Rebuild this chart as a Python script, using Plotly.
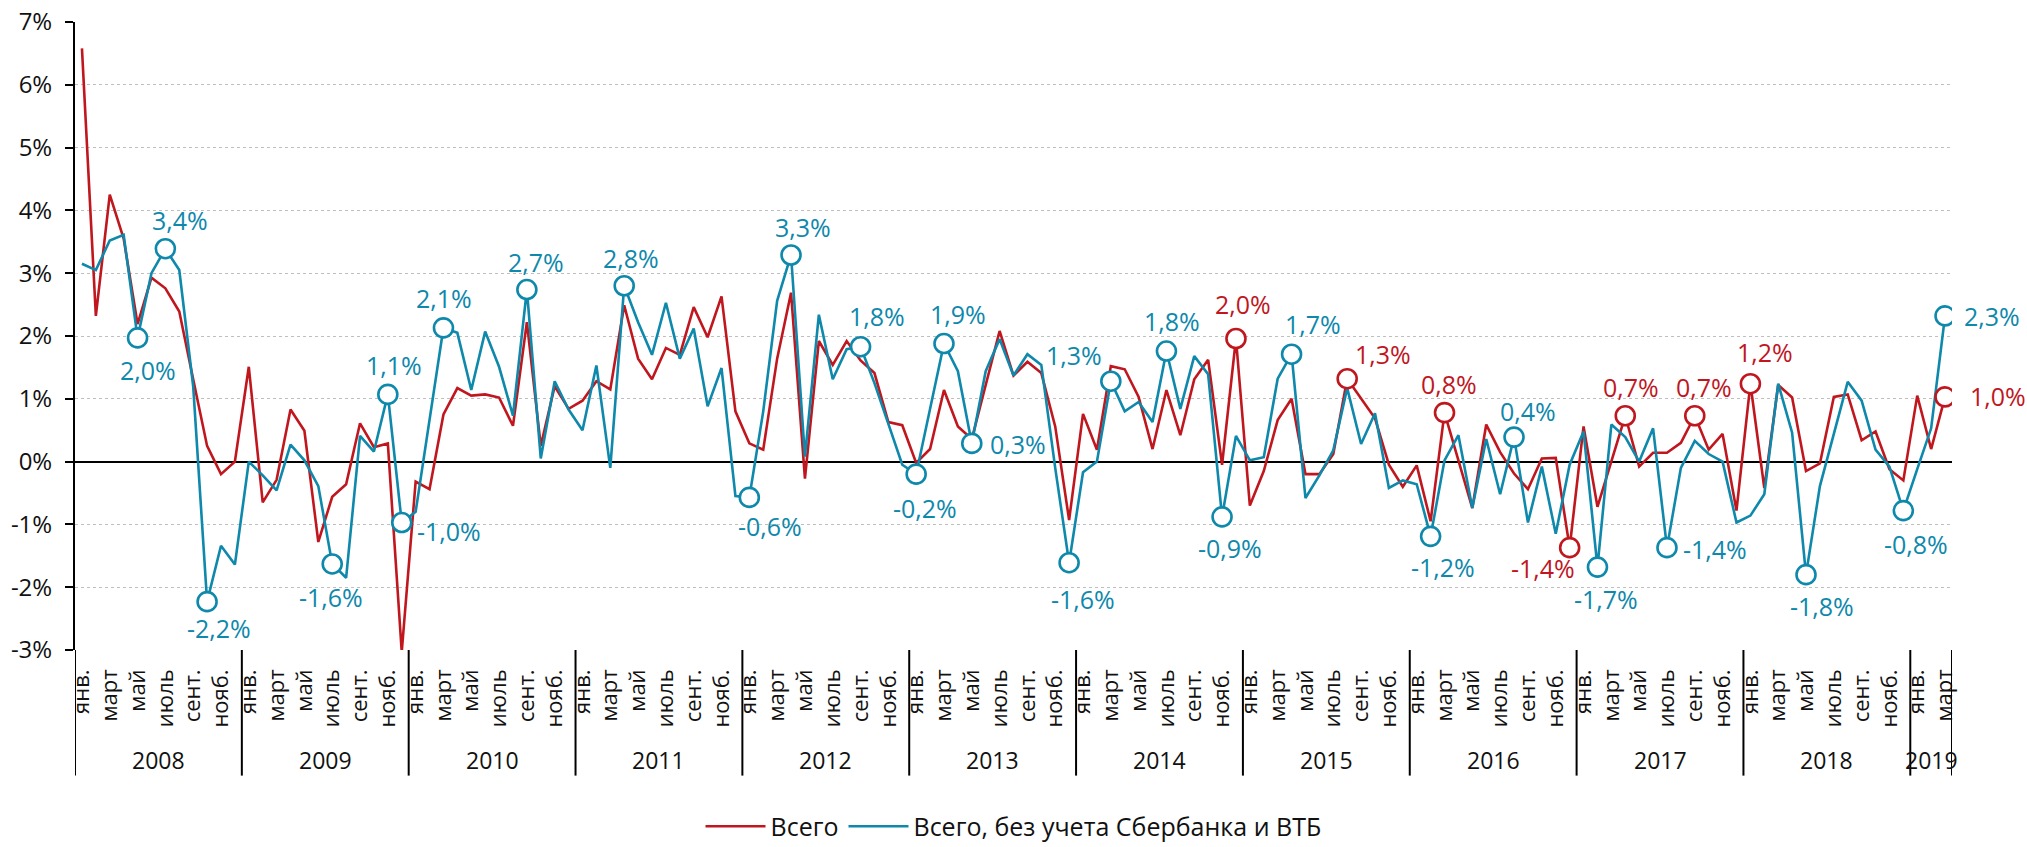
import plotly.graph_objects as go

# ---------------- data ----------------
years = [2008, 2009, 2010, 2011, 2012, 2013, 2014, 2015, 2016, 2017, 2018, 2019]
month_tick_labels = ["янв.", "март", "май", "июль", "сент.", "нояб."]
series_names = ["Всего", "Всего, без учета Сбербанка и ВТБ"]

total = [
    6.58, 2.32, 4.25, 3.55, 2.19, 2.93, 2.76, 2.39, 1.31, 0.25, -0.20, 0.00,
    1.51, -0.65, -0.29, 0.83, 0.49, -1.28, -0.56, -0.36, 0.61, 0.23, 0.29, -3.03,
    -0.32, -0.44, 0.75, 1.17, 1.05, 1.07, 1.02, 0.57, 2.22, 0.25, 1.20, 0.84,
    0.97, 1.28, 1.15, 2.49, 1.64, 1.31, 1.81, 1.70, 2.46, 1.98, 2.63, 0.80,
    0.29, 0.19, 1.64, 2.69, -0.27, 1.92, 1.54, 1.92, 1.61, 1.41, 0.63, 0.58,
    -0.02, 0.20, 1.14, 0.56, 0.36, 1.24, 2.08, 1.37, 1.59, 1.41, 0.56, -0.93,
    0.76, 0.19, 1.52, 1.47, 1.03, 0.20, 1.14, 0.42, 1.31, 1.62, -0.05, 1.96,
    -0.70, -0.15, 0.66, 1.00, -0.20, -0.20, 0.12, 1.32, 1.00, 0.69, -0.05, -0.40,
    -0.06, -0.95, 0.78, 0.00, -0.74, 0.59, 0.15, -0.19, -0.44, 0.05, 0.06, -1.37,
    0.56, -0.72, 0.00, 0.73, -0.08, 0.14, 0.14, 0.30, 0.73, 0.19, 0.44, -0.78,
    1.24, -0.42, 1.22, 1.02, -0.15, -0.03, 1.03, 1.07, 0.34, 0.48, -0.12, -0.30,
    1.05, 0.20, 1.03,
]

ex_sber_vtb = [
    3.15, 3.05, 3.52, 3.61, 1.97, 3.00, 3.39, 3.05, 1.20, -2.23, -1.34, -1.64,
    0.00, -0.22, -0.46, 0.27, 0.02, -0.39, -1.63, -1.85, 0.41, 0.16, 1.07, -0.97,
    -0.80, 0.70, 2.13, 2.05, 1.14, 2.07, 1.51, 0.73, 2.74, 0.05, 1.28, 0.83,
    0.50, 1.53, -0.10, 2.80, 2.22, 1.70, 2.53, 1.64, 2.12, 0.88, 1.49, -0.55,
    -0.57, 0.80, 2.56, 3.29, 0.08, 2.34, 1.31, 1.79, 1.83, 1.25, 0.60, -0.05,
    -0.20, 0.83, 1.88, 1.44, 0.29, 1.44, 1.95, 1.37, 1.71, 1.54, -0.10, -1.61,
    -0.17, 0.00, 1.28, 0.80, 0.95, 0.63, 1.76, 0.84, 1.68, 1.39, -0.88, 0.41,
    0.02, 0.07, 1.32, 1.71, -0.58, -0.22, 0.18, 1.17, 0.28, 0.77, -0.42, -0.30,
    -0.36, -1.19, 0.02, 0.42, -0.74, 0.36, -0.52, 0.39, -0.97, -0.08, -1.15, -0.05,
    0.48, -1.68, 0.59, 0.39, 0.00, 0.53, -1.37, -0.10, 0.33, 0.12, 0.00, -0.97,
    -0.86, -0.52, 1.24, 0.46, -1.80, -0.39, 0.46, 1.27, 0.97, 0.19, -0.08, -0.78,
    -0.12, 0.53, 2.32,
]

# highlighted points (month index from Jan 2008)
marked_total = [83, 91, 98, 107, 111, 116, 120, 134]
marked_ex = [4, 6, 9, 18, 22, 23, 26, 32, 39, 48, 51, 56, 60, 62, 64, 71, 74,
             78, 82, 87, 97, 103, 109, 114, 124, 131, 134]

y_ticks = [-3, -2, -1, 0, 1, 2, 3, 4, 5, 6, 7]

# ---------------- style ----------------
RED = "#C0171F"
TEAL = "#0E88AB"
FONT = "Open Sans, Noto Sans, sans-serif"

# label offsets (px) relative to marker centre
off_total = [(7, 35), (36, 25), (4, 29), (-27, -20), (6, 29), (9, 29), (15, 32), (53, 1)]
off_ex = [(10, -32), (15, 29), (12, -26), (-1, -33), (6, 29), (47, -8), (1, 30),
          (9, 28), (7, 28), (21, -29), (12, 28), (16, 31), (9, -34), (14, 30),
          (46, -1), (14, -36), (-37, 26), (6, 30), (8, -31), (21, 30), (12, -31),
          (14, 26), (9, -32), (48, -1), (16, -31), (13, -33), (47, 0)]

n = len(total)
x = list(range(n))


def fmt(v):
    return f"{v:.1f}".replace(".", ",") + "%"


fig = go.Figure()

fig.add_trace(go.Scatter(x=x, y=total, mode="lines", name=series_names[0],
                         line=dict(color=RED, width=2.6)))
fig.add_trace(go.Scatter(x=x, y=ex_sber_vtb, mode="lines", name=series_names[1],
                         line=dict(color=TEAL, width=2.6)))

fig.add_trace(go.Scatter(x=marked_total, y=[total[i] for i in marked_total], mode="markers",
                         showlegend=False, hoverinfo="skip",
                         marker=dict(symbol="circle", size=19, color="white",
                                     line=dict(color=RED, width=2.6))))
fig.add_trace(go.Scatter(x=marked_ex, y=[ex_sber_vtb[i] for i in marked_ex], mode="markers",
                         showlegend=False, hoverinfo="skip",
                         marker=dict(symbol="circle", size=19, color="white",
                                     line=dict(color=TEAL, width=2.6))))

annotations = []
for idx, (dx, dy) in zip(marked_total, off_total):
    annotations.append(dict(x=idx, y=total[idx], xref="x", yref="y", text=fmt(total[idx]),
                            showarrow=False, xshift=dx, yshift=dy,
                            font=dict(family=FONT, size=25, color=RED)))
for idx, (dx, dy) in zip(marked_ex, off_ex):
    annotations.append(dict(x=idx, y=ex_sber_vtb[idx], xref="x", yref="y",
                            text=fmt(ex_sber_vtb[idx]),
                            showarrow=False, xshift=dx, yshift=dy,
                            font=dict(family=FONT, size=25, color=TEAL)))

# year labels and separators
shapes = []
bounds = []
for k, yr in enumerate(years):
    start = 12 * k
    end = min(12 * k + 11, n - 1)
    bounds.append(start - 0.5)
    annotations.append(dict(x=(start + end) / 2, y=-0.175, xref="x", yref="paper",
                            text=str(yr), showarrow=False, yanchor="middle",
                            font=dict(family=FONT, size=23, color="#111111")))
bounds.append(n - 0.5)
for b in bounds:
    shapes.append(dict(type="line", xref="x", yref="paper", x0=b, x1=b, y0=0, y1=-0.2,
                       line=dict(color="black", width=2)))

tickvals = [i for i in x if i % 2 == 0]
ticktext = [month_tick_labels[(i % 12) // 2] for i in tickvals]

fig.update_layout(
    width=2027, height=847,
    margin=dict(l=75, r=75, t=22, b=197, autoexpand=False),
    plot_bgcolor="white", paper_bgcolor="white",
    font=dict(family=FONT, color="#111111"),
    showlegend=True,
    legend=dict(orientation="h", x=0.5, xanchor="center", y=-0.281, yanchor="middle",
                font=dict(family=FONT, size=25, color="#111111"), itemwidth=60,
                traceorder="normal"),
    annotations=annotations,
    shapes=shapes,
)

fig.update_xaxes(range=[-0.5, n - 0.5], showgrid=False, zeroline=False, showline=False,
                 ticks="", tickmode="array", tickvals=tickvals, ticktext=ticktext,
                 tickangle=-90, tickfont=dict(family=FONT, size=22, color="#111111"),
                 automargin=False, ticklabelstandoff=14)
fig.update_yaxes(range=[-3, 7], tickmode="array", tickvals=y_ticks,
                 ticktext=[f"{v}%" for v in y_ticks],
                 showgrid=True, gridcolor="#BFBFBF", gridwidth=1, griddash="dot",
                 zeroline=True, zerolinecolor="black", zerolinewidth=2,
                 showline=True, linecolor="black", linewidth=2,
                 ticks="outside", ticklen=8, tickwidth=2, tickcolor="black",
                 tickfont=dict(family=FONT, size=24, color="#111111"),
                 ticklabelstandoff=8, automargin=False)

fig.write_html("out.html", config={"displayModeBar": False},
               post_script="document.body.style.margin='0';document.body.style.overflow='hidden';")
